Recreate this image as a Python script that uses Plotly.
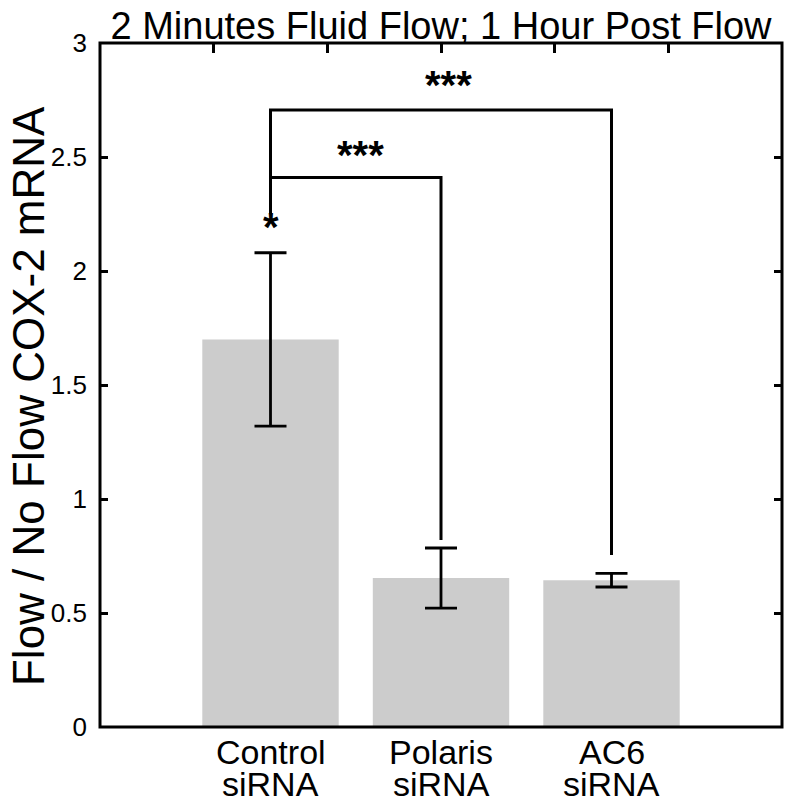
import plotly.graph_objects as go

# data
cat_line1 = ["Control", "Polaris", "AC6"]
cat_line2 = ["siRNA", "siRNA", "siRNA"]
means = [1.70, 0.653, 0.644]
errors = [0.38, 0.132, 0.030]

# significance brackets: (left group, right group, bar height, left foot, right foot)
brackets = [
    (0, 2, 2.706, 2.25, 0.754),
    (0, 1, 2.41, 2.25, 0.82),
]
# star labels: text, x (group units), y (value units)
star_text = ["***", "***", "*"]
star_x = [1.044, 0.528, 0.0]
star_y = [2.816, 2.509, 2.193]

FONT = "Liberation Sans, Arial, sans-serif"

fig = go.Figure()

x_pos = list(range(len(cat_line1)))

fig.add_trace(go.Bar(
    x=x_pos,
    y=means,
    width=0.8,
    marker=dict(color="#cccccc", line=dict(width=0)),
    error_y=dict(type="data", array=errors, visible=True,
                 color="black", thickness=2.8, width=16),
    showlegend=False,
))

# brackets
for (a, b, h, fa, fb) in brackets:
    fig.add_trace(go.Scatter(
        x=[a, a, b, b],
        y=[fa, h, h, fb],
        mode="lines",
        line=dict(color="black", width=3),
        showlegend=False,
        hoverinfo="skip",
    ))

for t, sx, sy in zip(star_text, star_x, star_y):
    fig.add_annotation(x=sx, y=sy, text="<b>" + t + "</b>", showarrow=False,
                       yanchor="middle",
                       font=dict(size=40, color="black", family=FONT))

# category labels (two lines, tight spacing)
for i, (l1, l2) in enumerate(zip(cat_line1, cat_line2)):
    fig.add_annotation(x=i, y=-0.0365, xref="x", yref="paper", text=l1,
                       showarrow=False, yanchor="middle",
                       font=dict(size=34, color="black", family=FONT))
    fig.add_annotation(x=i, y=-0.0833, xref="x", yref="paper", text=l2,
                       showarrow=False, yanchor="middle",
                       font=dict(size=34, color="black", family=FONT))

# y axis title
fig.add_annotation(x=-0.104, y=0.484, xref="paper", yref="paper",
                   text="Flow / No Flow COX-2 mRNA", textangle=-90,
                   showarrow=False, xanchor="center", yanchor="middle",
                   font=dict(size=44, color="black", family=FONT))

# plot frame
fig.add_shape(type="rect", xref="paper", yref="paper", x0=0, x1=1, y0=0, y1=1,
              line=dict(color="black", width=3), layer="above")

# dummy traces for the mirrored top / right axes with their own ticks
fig.add_trace(go.Scatter(x=[0, 6], y=[0, 0], xaxis="x2", yaxis="y", mode="markers",
                         marker=dict(opacity=0), showlegend=False, hoverinfo="skip"))
fig.add_trace(go.Scatter(x=[0, 0], y=[0, 3], xaxis="x", yaxis="y2", mode="markers",
                         marker=dict(opacity=0), showlegend=False, hoverinfo="skip"))

fig.update_layout(
    width=786, height=803,
    margin=dict(l=100, r=4, t=43, b=76, autoexpand=False),
    paper_bgcolor="white",
    plot_bgcolor="white",
    title=dict(text="2 Minutes Fluid Flow; 1 Hour Post Flow",
               xref="paper", x=0.5, xanchor="center",
               yref="container", y=1 - 26 / 803, yanchor="middle",
               font=dict(size=38, color="black", family=FONT)),
    xaxis=dict(range=[-1, 3], tickvals=x_pos, showticklabels=False,
               showline=False, ticks="", showgrid=False, zeroline=False,
               automargin=False),
    xaxis2=dict(range=[0, 6], overlaying="x", side="top", anchor="y",
                tickvals=[1, 2, 3, 4, 5], ticks="inside", ticklen=10,
                tickwidth=2.5, tickcolor="black",
                showticklabels=False, showline=False,
                showgrid=False, zeroline=False, automargin=False),
    yaxis=dict(range=[0, 3], dtick=0.5, ticks="inside", ticklen=8,
               tickwidth=2.5, tickcolor="black",
               showline=False, showgrid=False, zeroline=False,
               ticklabelstandoff=12, automargin=False,
               tickfont=dict(size=26, color="black", family=FONT)),
    yaxis2=dict(range=[0, 3], dtick=0.5, overlaying="y", side="right", anchor="x",
                ticks="inside", ticklen=8, tickwidth=2.5, tickcolor="black",
                showticklabels=False, showline=False,
                showgrid=False, zeroline=False, automargin=False),
    font=dict(family=FONT, color="black"),
)

# drop the default body margin so the figure fills the window exactly
fig.write_html(
    "out.html",
    config={"displayModeBar": False},
    post_script="document.body.style.margin='0';"
                "document.body.style.overflow='hidden';"
                "document.documentElement.style.overflow='hidden';",
)
